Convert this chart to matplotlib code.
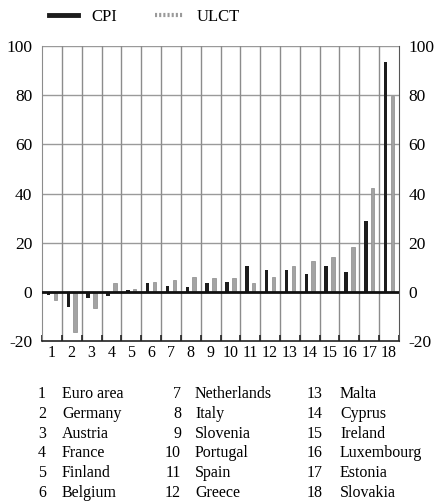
import numpy as np
import matplotlib
matplotlib.use("Agg")
import matplotlib.pyplot as plt
from matplotlib.lines import Line2D

plt.rcParams['font.family'] = ['Liberation Serif', 'DejaVu Serif']

# values (percent)
countries = ["Euro area", "Germany", "Austria", "France", "Finland", "Belgium",
             "Netherlands", "Italy", "Slovenia", "Portugal", "Spain", "Greece",
             "Malta", "Cyprus", "Ireland", "Luxembourg", "Estonia", "Slovakia"]
cpi = [-1.2, -6.0, -2.5, -1.6, 0.6, 3.5, 2.5, 1.8, 3.4, 4.0,
       10.5, 9.0, 8.8, 7.3, 10.5, 8.2, 29.0, 93.5]
ulct = [-3.5, -16.5, -6.5, 3.5, 1.2, 4.0, 5.0, 6.0, 5.8, 5.5,
        3.4, 6.0, 10.5, 12.5, 14.2, 18.3, 42.2, 79.8]
yticks = [-20, 0, 20, 40, 60, 80, 100]

W, H = 441, 503
fig = plt.figure(figsize=(W / 100, H / 100), dpi=100)
ax = fig.add_axes([42 / W, 1 - 341 / H, (399 - 42) / W, (341 - 46) / H])

x = np.arange(1, len(countries) + 1)
ax.bar(x - 0.17, cpi, width=0.18, color='#1c1c1c', zorder=3)
ax.bar(x + 0.17, ulct, width=0.18, color='#a3a3a3', edgecolor='#8a8a8a',
       linewidth=0.5, zorder=3)

ax.set_xlim(0.5, len(countries) + 0.5)
ax.set_ylim(-20, 100)

# grid
for yv in yticks[2:]:
    ax.axhline(yv, color='#9a9a9a', lw=1.0, zorder=1)
for xv in np.arange(1.5, len(countries), 1.0):
    ax.axvline(xv, color='#8c8c8c', lw=1.0, zorder=1)
ax.axhline(0, color='#111111', lw=2.0, zorder=4)

ax.spines['top'].set_visible(False)
ax.spines['left'].set_color('#8c8c8c')
ax.spines['right'].set_color('#555555')
ax.spines['bottom'].set_color('#222222')
ax.spines['bottom'].set_linewidth(1.2)

ax.set_xticks(x)
ax.set_xticklabels([str(i) for i in x], fontsize=11.5)
ax.set_xticks(np.arange(0.5, len(countries) + 1, 1.0), minor=True)
ax.tick_params(axis='x', which='major', length=0, pad=3)
ax.tick_params(axis='x', which='minor', direction='in', length=4, width=1.2,
               color='#222222')

ax.set_yticks(yticks)
ax.set_yticklabels([str(v) for v in yticks], fontsize=12.5)
ax.tick_params(axis='y', length=0, pad=7, labelleft=True, labelright=True)

# legend
handles = [Line2D([], [], color='#1c1c1c', lw=3.5),
           Line2D([], [], color='#9a9a9a', lw=3.0, ls=(0, (0.5, 0.5)))]
fig.legend(handles, ['CPI', 'ULCT'], loc='center left',
           bbox_to_anchor=(41 / W, 1 - 17 / H), ncol=2, frameon=False,
           fontsize=12, borderpad=0, handlelength=1.7, handletextpad=0.8,
           columnspacing=2.3)

# country key
num_x = [46, 181, 323]
name_x = [62, 195, 340]
row_y = [394, 414, 434, 453, 473, 493]
for i, name in enumerate(countries):
    col, row = divmod(i, 6)
    fig.text(num_x[col] / W, 1 - row_y[row] / H, str(i + 1), fontsize=11.5,
             ha='right', va='center')
    fig.text(name_x[col] / W, 1 - row_y[row] / H, name, fontsize=11.5,
             ha='left', va='center')

fig.savefig('out.png', dpi=100)
